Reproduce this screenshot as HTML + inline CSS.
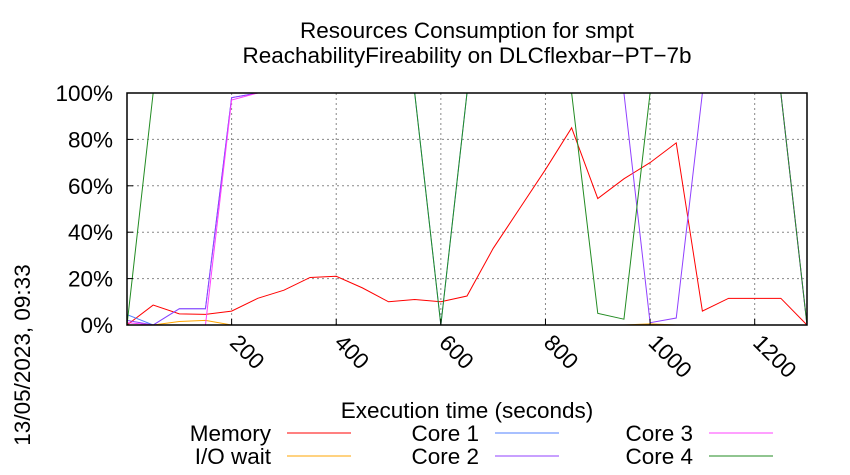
<!DOCTYPE html>
<html><head><meta charset="utf-8"><style>
html,body{margin:0;padding:0;background:#fff;}
svg{display:block;font-family:"Liberation Sans",sans-serif;}
</style></head><body>
<svg id="chart" width="850" height="475" viewBox="0 0 850 475">
<text x="467" y="38" font-size="22.5" text-anchor="middle">Resources Consumption for smpt</text>
<text x="467" y="63" font-size="22.5" text-anchor="middle">ReachabilityFireability on DLCflexbar−PT−7b</text>
<text transform="translate(30,355) rotate(-90)" font-size="22.5" text-anchor="middle">13/05/2023, 09:33</text>
<g id="grid"></g>
<g id="series"></g>
<rect x="127" y="93" width="680" height="232" fill="none" stroke="#000" stroke-width="1.5"/>
<g id="ticks"></g>
<text x="467" y="418" font-size="22.5" text-anchor="middle">Execution time (seconds)</text>
<g id="legend"></g>
</svg>
<script>
const times=[0,50,100,150,200,250,300,350,400,450,500,550,600,650,700,750,800,850,900,950,1000,1050,1100,1150,1200,1250,1300];
const memory=[0,8.6,4.8,4.6,6,11.5,15,20.5,21,16,10,11,10,12.5,33,50,67,85,54.5,63,70,78.5,6,11.5,11.5,11.5,0];
const iowait=[0,0,1.5,2,0,0,0,0,0,0,0,0,0,0,0,0,0,0,0,0,0.5,0,0,0,0,0,0];
const core1=[4.5,0,7,7,98,100,100,100,100,100,100,100,0,100,100,100,100,100,100,100,100,100,100,100,100,100,0];
const core2=[2,0,7,7,98,100,100,100,100,100,100,100,100,100,100,100,100,100,100,100,1,3,100,100,100,100,0];
const core3=[1,0,0,0,97,100,100,100,100,100,100,100,100,100,100,100,100,100,100,100,100,100,100,100,100,100,0];
const core4=[0,100,100,100,100,100,100,100,100,100,100,100,0,100,100,100,100,100,5,2.5,100,100,100,100,100,100,0];
const xTicks=[200,400,600,800,1000,1200];
const yTicks=[0,20,40,60,80,100];
const NS="http://www.w3.org/2000/svg";
const X=t=>127+t*(680/1300);
const Y=v=>325-v*2.32;
function mk(tag,attrs,parent){const e=document.createElementNS(NS,tag);for(const k in attrs)e.setAttribute(k,attrs[k]);parent.appendChild(e);return e;}
const grid=document.getElementById('grid'),ticks=document.getElementById('ticks'),ser=document.getElementById('series'),leg=document.getElementById('legend');
yTicks.forEach(v=>{
  if(v>0&&v<100){const l=mk('line',{x1:127,x2:807,y1:Y(v),y2:Y(v),stroke:'#888','stroke-dasharray':'2,3','stroke-width':1},grid);
  
  }
  const tk=mk('line',{x1:127,x2:133,y1:Y(v),y2:Y(v),stroke:'#000'},ticks);
  
  
  const t=mk('text',{x:113,y:Y(v)+8,'font-size':22.5,'text-anchor':'end'},ticks);t.textContent=v+'%';
  
  
});
xTicks.forEach(v=>{
  const l=mk('line',{x1:X(v),x2:X(v),y1:93,y2:325,stroke:'#888','stroke-dasharray':'2,3'},grid);
  
  
  const tk=mk('line',{x1:X(v),x2:X(v),y1:319,y2:325,stroke:'#000'},ticks);
  
  
  const t=mk('text',{transform:`translate(${X(v)-3},${344}) rotate(45)`,'font-size':22.5},ticks);t.textContent=v;
  
  
});
const series=[['Memory',memory,'#ff0000'],['I/O wait',iowait,'#ffa500'],['Core 1',core1,'#5080ff'],['Core 2',core2,'#9040ff'],['Core 3',core3,'#ff40ff'],['Core 4',core4,'#228b22']];
series.forEach(([name,vals,col],i)=>{
  const p=mk('polyline',{points:vals.map((v,j)=>X(times[j])+','+Y(v)).join(' '),fill:'none',stroke:col,'stroke-width':1},ser);
  
  
  const col_i=Math.floor(i/2),row=i%2;
  const lx=[271,479,693][col_i],ly=[441,464][row];
  const t=mk('text',{x:lx,y:ly,'font-size':22.5,'text-anchor':'end'},leg);t.textContent=name;
  
  
  const l=mk('line',{x1:lx+16,x2:lx+80,y1:ly-8,y2:ly-8,stroke:col,'stroke-width':1},leg);
  
  
});
</script>
</body></html>
